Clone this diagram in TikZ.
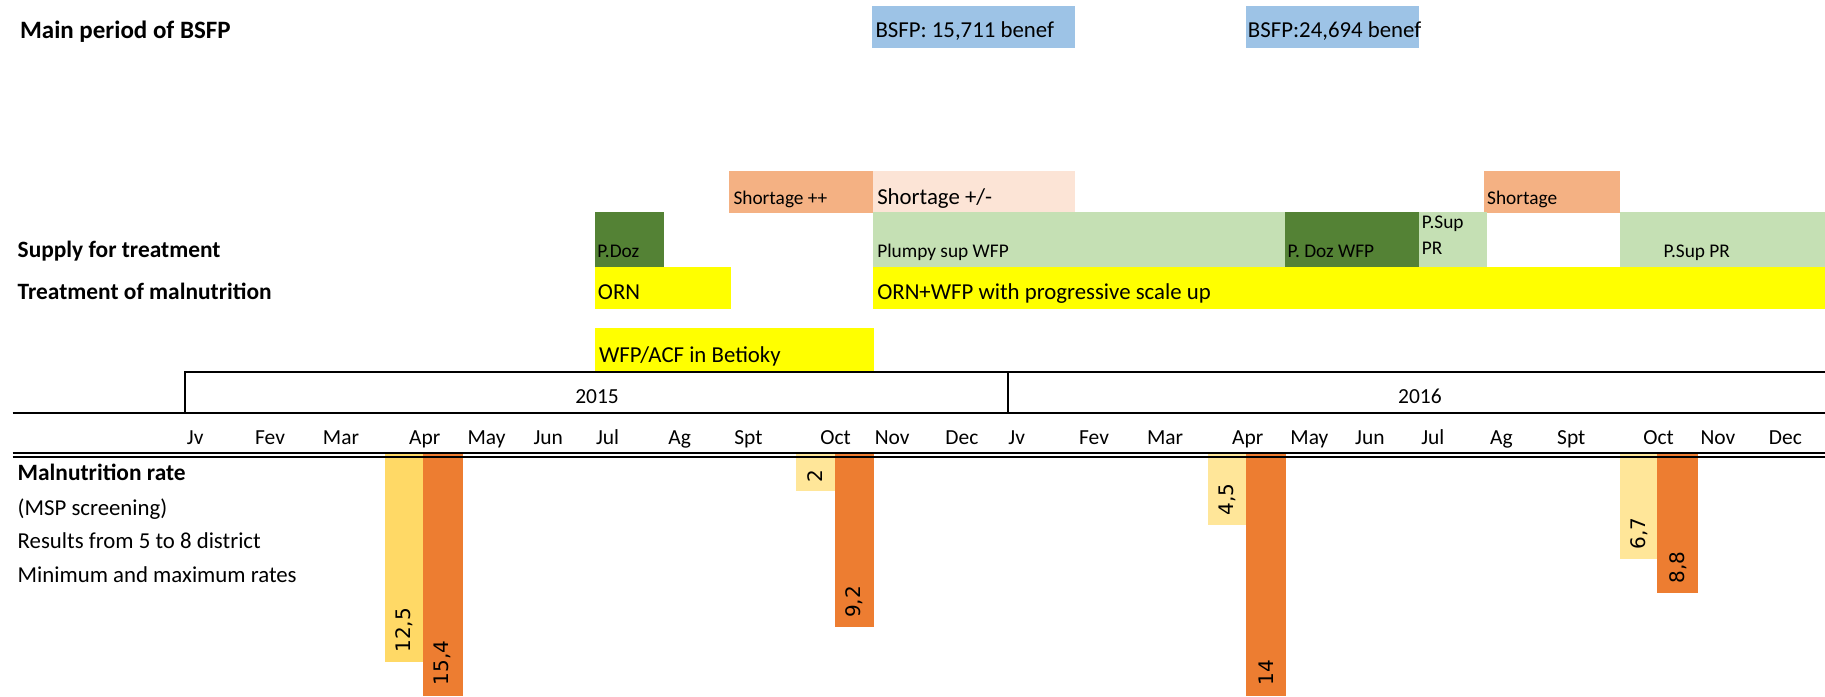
\documentclass[tikz,border=0pt]{standalone}
\usepackage{fontspec}
\setmainfont{Carlito}
\newfontfamily\numfont{DejaVu Sans}
\definecolor{bsfpblue}{HTML}{9DC3E6}
\definecolor{shortdark}{HTML}{F4B183}
\definecolor{shortlight}{HTML}{FCE4D6}
\definecolor{dkgreen}{HTML}{548235}
\definecolor{ltgreen}{HTML}{C5E0B4}
\definecolor{xlyellow}{HTML}{FFFF00}
\definecolor{minbarA}{HTML}{FFD966}
\definecolor{minbar}{HTML}{FFE699}
\definecolor{maxbar}{HTML}{ED7D31}
\begin{document}
\begin{tikzpicture}[x=0.872927pt,y=-0.872927pt,
  lbl/.style={anchor=base west, inner sep=0pt, font=\fontsize{17.1}{20}\selectfont},
  blbl/.style={anchor=base west, inner sep=0pt, font=\fontsize{17.55}{20}\selectfont\bfseries},
  sml/.style={anchor=base west, inner sep=0pt, font=\fontsize{14.5}{17}\selectfont},
  mon/.style={anchor=base, inner sep=0pt, font=\fontsize{16.1}{18}\selectfont},
  num/.style={rotate=90, anchor=west, inner sep=0pt, font=\numfont\fontsize{15}{17}\selectfont},
  axisline/.style={line width=1.5pt}
]
\useasboundingbox (0,0) rectangle (1568,598);

% ---- top row
\node[anchor=base west, inner sep=0pt, font=\fontsize{18.75}{22}\selectfont\bfseries] (title) at (17,33.5) {Main period of BSFP};
\fill[bsfpblue] (749.2,5.2) rectangle (924,41.5);
\node[lbl] (bsfpA) at (752,32) {BSFP: 15,711 benef};
\fill[bsfpblue] (1070.5,5.2) rectangle (1219.5,41.5);
\node[lbl] (bsfpB) at (1072,32) {BSFP:24,694 benef};

% ---- shortage row
\fill[shortdark] (626.3,146.9) rectangle (749.7,183.3);
\node[sml] (shortA) at (630,175.6) {Shortage ++};
\fill[shortlight] (749.7,146.9) rectangle (923.6,183.3);
\node[lbl] (shortB) at (753.5,175.6) {Shortage +/-};
\fill[shortdark] (1275,146.9) rectangle (1392,183.3);
\node[sml] (shortC) at (1277.5,175.6) {Shortage};

% ---- supply row
\node[blbl] (supply) at (15,221.4) {Supply for treatment};
\fill[dkgreen] (511.5,181.9) rectangle (570.6,229.1);
\node[sml] (pdoz) at (513,221.4) {P.Doz};
\fill[ltgreen] (750,181.9) rectangle (1104,229.1);
\node[sml] (plumpy) at (753.5,221.4) {Plumpy sup WFP};
\fill[dkgreen] (1104,181.9) rectangle (1219,229.1);
\node[sml] (pdozwfp) at (1106,221.4) {P. Doz WFP};
\fill[ltgreen] (1219,181.9) rectangle (1277.7,229.1);
\node[sml] (psupA) at (1221.5,196.2) {P.Sup};
\node[sml] (psupB) at (1221.5,218.5) {PR};
\fill[ltgreen] (1392,181.9) rectangle (1568,229.1);
\node[sml] (psupC) at (1429,221.4) {P.Sup PR};

% ---- treatment row
\node[blbl] (treat) at (15,257.2) {Treatment of malnutrition};
\fill[xlyellow] (511.5,229.1) rectangle (627.8,265.8);
\node[lbl] (orn) at (513.5,257.2) {ORN};
\fill[xlyellow] (750,229.1) rectangle (1568,265.8);
\node[lbl] (ornwfp) at (753.5,257.2) {ORN+WFP with progressive scale up};
\fill[xlyellow] (511.5,281.5) rectangle (751,318.5);
\node[lbl] (betioky) at (514.5,311.6) {WFP/ACF in Betioky};

% ---- malnutrition bars
\fill[minbarA] (330.5,390) rectangle (363.5,568.5);
\fill[maxbar] (363.5,390) rectangle (397.5,598);
\fill[minbar] (684,390) rectangle (717,421.6);
\fill[maxbar] (717,390) rectangle (751,538.4);
\fill[minbar] (1038,390) rectangle (1070.6,450.8);
\fill[maxbar] (1070.6,390) rectangle (1105,598);
\fill[minbar] (1392,390) rectangle (1424,480);
\fill[maxbar] (1424,390) rectangle (1459,509.2);
\node[num] (vA) at (347,561) {12,5};
\node[num] (vB) at (380.5,589) {15,4};
\node[num] (vC) at (700.5,415) {2};
\node[num] (vD) at (734,531) {9,2};
\node[num] (vE) at (1054.3,443) {4,5};
\node[num] (vF) at (1087.8,589) {14};
\node[num] (vG) at (1408,472.5) {6,7};
\node[num] (vH) at (1441.5,501.5) {8,8};

% ---- timeline
\draw[axisline] (159.3,354.6) -- (159.3,319.3) -- (1570,319.3);
\draw[axisline] (866,319.3) -- (866,354.6);
\draw[axisline] (10.8,354.6) -- (1570,354.6);
\draw[axisline] (10.8,389.4) -- (1570,389.4);
\draw[axisline] (10.8,392.6) -- (1570,392.6);
\node[mon] (y2015) at (513,346.5) {2015};
\node[mon] (y2016) at (1220,346.5) {2016};
\foreach \x/\m [count=\i] in {167.7/Jv,232/Fev,293/Mar,365/Apr,418/May,471/Jun,522/Jul,584/Ag,643/Spt,718/Oct,766.6/Nov,826.5/Dec,873.5/Jv,940/Fev,1001/Mar,1072/Apr,1125/May,1177/Jun,1231/Jul,1290/Ag,1350/Spt,1425/Oct,1476/Nov,1534/Dec}
  \node[mon] (month\i) at (\x,382.3) {\m};

% ---- malnutrition labels
\node[blbl] (malrate) at (15,412.5) {Malnutrition rate};
\node[lbl] (msp) at (15,442.5) {(MSP screening)};
\node[lbl] (results) at (15,471.5) {Results from 5 to 8 district};
\node[lbl] (minmax) at (15,500.5) {Minimum and maximum rates};
\end{tikzpicture}
\end{document}
